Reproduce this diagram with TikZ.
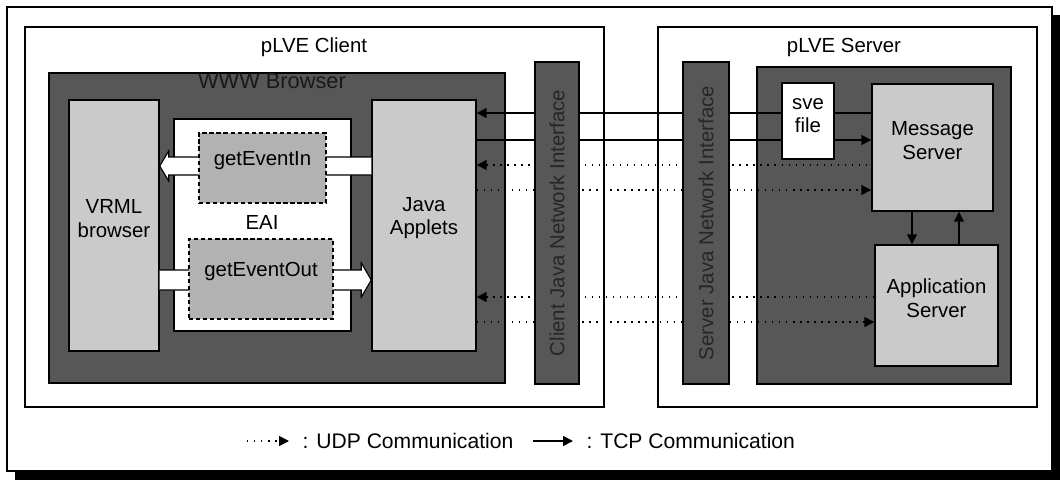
\documentclass[tikz,border=0pt]{standalone}
\usepackage{fontspec}
\setmainfont{Liberation Sans}
\usetikzlibrary{arrows.meta,positioning,fit,calc}
\definecolor{Dark}{HTML}{575757}
\definecolor{Light}{HTML}{CACACA}
\definecolor{Mid}{HTML}{B2B2B2}

\begin{document}
\begin{tikzpicture}[x=0.025cm,y=-0.025cm,>={Triangle[length=7pt,width=7pt]},
  font=\fontsize{14.5}{16.5}\selectfont,
  box/.style={draw,line width=1pt,inner sep=0pt,align=center},
  darkbox/.style={box,fill=Dark},
  lightbox/.style={box,fill=Light},
  evbox/.style={box,fill=Mid,line width=.9pt,dash pattern=on 3pt off 2pt},
  tcp/.style={line width=1pt},
  udp/.style={line width=1pt,dash pattern=on 1pt off 4pt},
  fat/.style={draw,fill=white,line width=.8pt},
  keytxt/.style={inner sep=1pt,font=\fontsize{15}{18}\selectfont}]
\useasboundingbox (0,0) rectangle (1060,480);
% frame with shadow
\fill (15,471) rectangle (1060,480);
\fill (1052,15) rectangle (1060,480);
\draw[line width=.8pt,fill=white] (7,7) rectangle (1052,471);
% client and server
\node[box,fill=white,fit={(25,27)(604,407)}] (client) {};
\node[box,fill=white,fit={(658,27)(1037,407)}] (server) {};
\node (ctitle) at (314,47) {pLVE Client};
\node (stitle) at (844,47) {pLVE Server};
% browser
\node[darkbox,fit={(49,73)(505,383)}] (www) {};
\node[text=black!90,font=\fontsize{15.5}{18}\selectfont] (wwwtxt) at (272,81) {WWW Browser};
\node[lightbox,fit={(69,100)(159,351)}] (vrml) {VRML\\browser};
\node[lightbox,fit={(372,100)(476,351)}] (java) {Java\\Applets};
\node[box,fill=white,fit={(174,119)(351,331)}] (eai) {};
\node (eaitxt) at (262,222) {EAI};
% fat arrows of the EAI
\coordinate (evinlvl) at (0,166);
\coordinate (evoutlvl) at (0,280);
\coordinate (inR) at (java.west |- evinlvl);
\coordinate (inL) at (vrml.east |- evinlvl);
\coordinate (outL) at (vrml.east |- evoutlvl);
\coordinate (outR) at (java.west |- evoutlvl);
\draw[fat] ($(inR)+(0,-9)$) -- ($(inL)+(9,-9)$) -- ($(inL)+(9,-15)$) -- (inL)
  -- ($(inL)+(9,15)$) -- ($(inL)+(9,9)$) -- ($(inR)+(0,9)$);
\draw[fat] ($(outL)+(0,-10)$) -- ($(outR)+(-10,-10)$) -- ($(outR)+(-10,-17)$) -- (outR)
  -- ($(outR)+(-10,17)$) -- ($(outR)+(-10,10)$) -- ($(outL)+(0,10)$);
\node[evbox,fit={(199,133)(326,203)}] (evin) {getEventIn};
\node[evbox,fit={(189,239)(333,319)}] (evout) {getEventOut};
% server side
\node[darkbox,fit={(757,67)(1011,384)}] (sdark) {};
\node[lightbox,fit={(872,84)(993,211)}] (msg) {Message\\Server};
\node[lightbox,fit={(875,245)(998,366)}] (app) {Application\\Server};
% communication
\coordinate (tcpa) at (0,113);
\coordinate (tcpb) at (0,140);
\coordinate (udpa) at (0,165);
\coordinate (udpb) at (0,190);
\coordinate (udpc) at (0,297);
\coordinate (udpd) at (0,322);
\draw[tcp,<-] (java.east |- tcpa) -- (msg.west |- tcpa);
\draw[tcp,->] (java.east |- tcpb) -- (msg.west |- tcpb);
\draw[udp,<-] (java.east |- udpa) -- (msg.west |- udpa);
\draw[udp,->] (java.east |- udpb) -- (msg.west |- udpb);
\draw[udp,<-] (java.east |- udpc) -- (app.west |- udpc);
\draw[udp,->] (java.east |- udpd) -- (app.west |- udpd);
% network interfaces
\node[darkbox,fit={(535,62)(579,384)}] (cni) {};
\node[rotate=90,text=black!85] (cnitxt) at (cni) {Client Java Network Interface};
\node[darkbox,fit={(683,62)(729,384)}] (sni) {};
\node[rotate=90,text=black!85] (snitxt) at (sni) {Server Java Network Interface};
\node[box,fill=white,fit={(782,83)(834,159)}] (sve) {sve\\file};
\coordinate (dnx) at (912,0);
\coordinate (upx) at (959,0);
\draw[tcp,->] (msg.south -| dnx) -- (app.north -| dnx);
\draw[tcp,->] (app.north -| upx) -- (msg.south -| upx);
% legend
\coordinate (udpkey) at (247,441);
\node[keytxt,right=1.35cm of udpkey] (udptxt) {: UDP Communication};
\draw[udp,->,shorten >=3mm] (udpkey) -- (udptxt);
\coordinate[right=0.45cm of udptxt] (tcpkey);
\node[keytxt,right=1.3cm of tcpkey] (tcptxt) {: TCP Communication};
\draw[tcp,->,shorten >=3mm] (tcpkey) -- (tcptxt);
\end{tikzpicture}
\end{document}
